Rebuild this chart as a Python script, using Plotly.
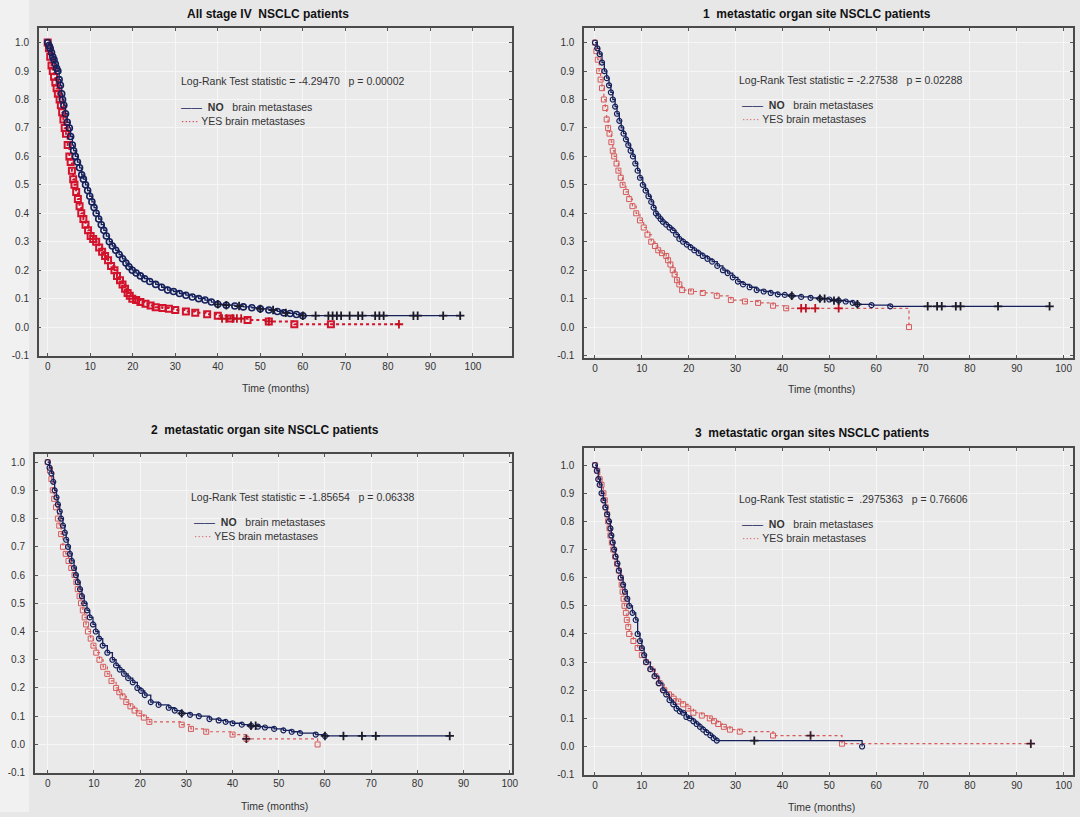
import plotly.graph_objects as go

# ---------------- data ----------------
titles = ["All stage IV  NSCLC patients",
          "1  metastatic organ site NSCLC patients",
          "2  metastatic organ site NSCLC patients",
          "3  metastatic organ sites NSCLC patients"]
stats = ["Log-Rank Test statistic = -4.29470   p = 0.00002",
         "Log-Rank Test statistic = -2.27538   p = 0.02288",
         "Log-Rank Test statistic = -1.85654   p = 0.06338",
         "Log-Rank Test statistic =  .2975363   p = 0.76606"]

# Each curve: (time in months, cumulative proportion surviving) at events
p1_no = [(0, 1.0), (0.3, 0.99), (0.6, 0.98), (0.9, 0.965), (1.2, 0.95), (1.5, 0.94), (1.8, 0.925),
         (2.1, 0.91), (2.4, 0.9), (2.7, 0.87), (3.0, 0.85), (3.3, 0.82), (3.5, 0.8), (3.8, 0.78),
         (4.2, 0.75), (4.6, 0.72), (5.1, 0.7), (5.4, 0.67), (5.8, 0.64), (6.1, 0.62), (6.5, 0.6),
         (7.0, 0.58), (7.5, 0.56), (8.0, 0.535), (8.4, 0.52), (8.9, 0.5), (9.4, 0.48), (9.9, 0.46),
         (10.4, 0.44), (10.9, 0.42), (11.4, 0.4), (12.0, 0.38), (12.6, 0.36), (13.2, 0.34),
         (13.8, 0.32), (14.5, 0.3), (15.2, 0.285), (16.0, 0.27), (16.8, 0.255), (17.6, 0.24),
         (18.4, 0.225), (19.1, 0.212), (19.9, 0.2), (20.8, 0.19), (21.8, 0.18), (22.8, 0.17),
         (24.0, 0.16), (25.4, 0.15), (26.8, 0.14), (28.2, 0.13), (29.6, 0.125), (31.0, 0.118),
         (32.5, 0.112), (34.0, 0.106), (35.5, 0.1), (37.0, 0.095), (38.5, 0.088), (40.0, 0.08),
         (42.0, 0.077), (44.0, 0.074), (46.0, 0.071), (48.0, 0.068), (50.0, 0.064), (52.0, 0.06),
         (54.0, 0.055), (55.5, 0.05), (57.0, 0.048), (58.5, 0.044), (60.0, 0.04)]
p1_no_end = 97
p1_no_cens = [(40, 0.08), (42, 0.077), (45, 0.074), (50, 0.064), (53, 0.06), (56, 0.05), (60, 0.04),
              (63, 0.04), (66, 0.04), (67, 0.04), (68, 0.04), (69, 0.04), (71, 0.04), (73, 0.04),
              (74, 0.04), (77, 0.04), (78, 0.04), (79, 0.04), (86, 0.04), (87, 0.04), (93, 0.04),
              (97, 0.04)]
p1_yes = [(0, 1.0), (0.3, 0.98), (0.6, 0.95), (0.9, 0.92), (1.2, 0.9), (1.5, 0.88), (1.8, 0.86),
          (2.1, 0.84), (2.4, 0.82), (2.8, 0.8), (3.1, 0.78), (3.4, 0.755), (3.7, 0.73), (4.0, 0.7),
          (4.3, 0.68), (4.7, 0.64), (5.1, 0.6), (5.4, 0.58), (5.7, 0.55), (6.0, 0.52), (6.3, 0.5),
          (6.7, 0.475), (7.1, 0.45), (7.5, 0.425), (7.9, 0.4), (8.4, 0.38), (8.9, 0.36), (9.5, 0.34),
          (10.1, 0.32), (10.7, 0.31), (11.4, 0.3), (12.1, 0.28), (12.8, 0.265), (13.5, 0.25),
          (14.2, 0.235), (14.9, 0.215), (15.7, 0.2), (16.3, 0.18), (17.0, 0.165), (17.6, 0.15),
          (18.2, 0.135), (18.8, 0.12), (19.3, 0.11), (19.9, 0.1), (20.8, 0.095), (21.8, 0.088),
          (23.0, 0.082), (24.2, 0.076), (25.4, 0.07), (27.0, 0.067), (28.5, 0.064), (30.0, 0.06),
          (32.5, 0.055), (34.7, 0.05), (37.5, 0.045), (40.0, 0.04), (43.0, 0.03), (47.0, 0.025),
          (52.0, 0.02), (58.0, 0.01), (66.6, 0.01)]
p1_yes_end = 82.6
p1_yes_cens = [(41, 0.03), (42, 0.03), (43.5, 0.03), (44.5, 0.03), (45.5, 0.03), (52, 0.02),
               (82.6, 0.01)]

p2_no = [(0, 1.0), (0.5, 0.98), (1.0, 0.96), (1.5, 0.93), (2.0, 0.9), (2.5, 0.875), (3.0, 0.85),
         (3.4, 0.825), (3.8, 0.8), (4.3, 0.775), (4.7, 0.75), (5.2, 0.725), (5.6, 0.7), (6.1, 0.68),
         (6.6, 0.66), (7.1, 0.64), (7.6, 0.62), (8.1, 0.6), (8.6, 0.575), (9.1, 0.55), (9.6, 0.525),
         (10.2, 0.5), (10.8, 0.48), (11.4, 0.46), (12.0, 0.44), (12.5, 0.42), (13.0, 0.4),
         (13.5, 0.39), (14.0, 0.38), (14.5, 0.37), (15.2, 0.36), (15.9, 0.35), (16.6, 0.34),
         (17.3, 0.325), (18.0, 0.31), (18.8, 0.3), (19.6, 0.29), (20.4, 0.28), (21.2, 0.27),
         (22.1, 0.26), (23.0, 0.25), (24.0, 0.24), (25.0, 0.23), (26.1, 0.215), (27.3, 0.2),
         (28.3, 0.19), (29.4, 0.175), (30.5, 0.16), (31.6, 0.15), (33.0, 0.14), (34.5, 0.13),
         (36.0, 0.125), (37.5, 0.12), (39.0, 0.115), (40.5, 0.113), (42.0, 0.11), (44.0, 0.106),
         (46.0, 0.103), (48.0, 0.1), (50.0, 0.097), (52.0, 0.093), (53.5, 0.09), (55.0, 0.085),
         (56.0, 0.08), (59.0, 0.077), (63.0, 0.073)]
p2_no_end = 97
p2_no_cens = [(42, 0.11), (48, 0.1), (49, 0.1), (51, 0.093), (52, 0.093), (56, 0.08), (71, 0.073),
              (73, 0.073), (74, 0.073), (77, 0.073), (78, 0.073), (86, 0.073), (97, 0.073)]
p2_yes = [(0, 1.0), (0.3, 0.97), (0.6, 0.94), (0.9, 0.9), (1.2, 0.87), (1.5, 0.84), (1.9, 0.8),
          (2.2, 0.77), (2.5, 0.73), (2.8, 0.7), (3.1, 0.68), (3.5, 0.65), (3.8, 0.62), (4.1, 0.6),
          (4.6, 0.575), (5.0, 0.55), (5.5, 0.525), (5.9, 0.5), (6.6, 0.475), (7.3, 0.45),
          (8.0, 0.425), (8.8, 0.4), (9.6, 0.375), (10.4, 0.35), (11.2, 0.325), (12.0, 0.3),
          (12.8, 0.285), (13.5, 0.27), (14.3, 0.26), (15.2, 0.25), (15.6, 0.235), (16.1, 0.22),
          (16.6, 0.2), (17.0, 0.185), (17.5, 0.165), (18.0, 0.15), (18.6, 0.13), (20.5, 0.125),
          (23.0, 0.12), (26.0, 0.11), (29.0, 0.095), (32.0, 0.09), (34.8, 0.085), (38.0, 0.075),
          (40.8, 0.066), (67.0, 0.0)]
p2_yes_end = 67
p2_yes_cens = [(44, 0.066), (45, 0.066), (47, 0.066), (52, 0.066)]

p3_no = [(0, 1.0), (0.4, 0.98), (0.8, 0.96), (1.2, 0.93), (1.5, 0.9), (1.9, 0.875), (2.2, 0.85),
         (2.6, 0.825), (2.9, 0.8), (3.3, 0.775), (3.7, 0.75), (4.0, 0.725), (4.4, 0.7), (4.8, 0.675),
         (5.2, 0.65), (5.7, 0.625), (6.1, 0.6), (6.5, 0.575), (7.0, 0.55), (7.4, 0.525), (7.9, 0.5),
         (8.5, 0.475), (9.1, 0.45), (9.8, 0.425), (10.4, 0.4), (11.1, 0.375), (11.9, 0.35),
         (12.9, 0.325), (14.0, 0.3), (14.8, 0.28), (15.6, 0.265), (16.5, 0.25), (17.4, 0.235),
         (18.4, 0.22), (19.4, 0.2), (20.2, 0.19), (21.0, 0.175), (22.3, 0.15), (24.0, 0.14),
         (26.2, 0.13), (27.5, 0.12), (29.0, 0.11), (30.8, 0.105), (32.7, 0.1), (35.0, 0.09),
         (37.0, 0.085), (38.5, 0.08), (40.0, 0.075), (42.0, 0.07), (44.0, 0.066), (45.5, 0.063),
         (47.0, 0.06), (49.0, 0.055), (51.0, 0.05), (52.8, 0.045), (54.6, 0.04), (58.0, 0.035),
         (60.0, 0.03)]
p3_no_end = 87
p3_no_cens = [(29, 0.11), (44, 0.066), (45, 0.066), (60, 0.03), (64, 0.03), (68, 0.03), (71, 0.03),
              (87, 0.03)]
p3_yes = [(0, 1.0), (0.5, 0.97), (0.8, 0.94), (1.1, 0.9), (1.4, 0.87), (1.8, 0.84), (2.2, 0.8),
          (2.5, 0.775), (2.9, 0.745), (3.3, 0.7), (3.9, 0.675), (4.5, 0.65), (5.1, 0.625),
          (5.8, 0.6), (6.2, 0.575), (6.5, 0.55), (6.9, 0.525), (7.2, 0.5), (7.6, 0.475), (8.0, 0.45),
          (8.3, 0.425), (8.7, 0.4), (9.3, 0.375), (9.9, 0.35), (10.5, 0.325), (11.2, 0.3),
          (12.0, 0.275), (12.9, 0.25), (13.8, 0.225), (14.8, 0.2), (15.5, 0.185), (16.2, 0.17),
          (17.0, 0.15), (17.9, 0.135), (18.8, 0.12), (19.8, 0.11), (20.8, 0.095), (22.0, 0.08),
          (29.0, 0.07), (31.0, 0.055), (34.3, 0.045), (40.0, 0.035), (43.0, 0.02), (58.4, 0.0)]
p3_yes_end = 58.4
p3_yes_cens = [(43, 0.02)]

p4_no = [(0, 1.0), (0.4, 0.98), (0.7, 0.95), (1.0, 0.93), (1.4, 0.9), (1.8, 0.875), (2.2, 0.85),
         (2.6, 0.825), (3.0, 0.8), (3.3, 0.775), (3.5, 0.75), (3.8, 0.725), (4.1, 0.7), (4.4, 0.675),
         (4.8, 0.65), (5.1, 0.625), (5.5, 0.6), (6.0, 0.575), (6.4, 0.55), (6.9, 0.525), (7.3, 0.5),
         (8.0, 0.475), (8.7, 0.45), (9.1, 0.4), (9.6, 0.375), (10.0, 0.35), (10.5, 0.325),
         (10.9, 0.3), (11.8, 0.275), (12.7, 0.25), (13.6, 0.225), (14.5, 0.2), (15.2, 0.185),
         (15.9, 0.165), (16.7, 0.15), (17.4, 0.135), (18.1, 0.125), (18.8, 0.12), (19.5, 0.105),
         (20.2, 0.1), (21.0, 0.09), (21.7, 0.08), (22.4, 0.07), (23.1, 0.06), (23.8, 0.05),
         (24.6, 0.04), (25.3, 0.03), (26.0, 0.021), (57.0, 0.0)]
p4_no_end = 57
p4_no_cens = [(34, 0.021)]
p4_yes = [(0, 1.0), (0.5, 0.98), (1.0, 0.95), (1.4, 0.93), (1.8, 0.9), (2.1, 0.875), (2.3, 0.85),
          (2.6, 0.825), (2.8, 0.8), (3.1, 0.775), (3.3, 0.75), (3.6, 0.725), (3.9, 0.7),
          (4.3, 0.675), (4.7, 0.65), (5.1, 0.625), (5.5, 0.6), (5.7, 0.575), (5.9, 0.55),
          (6.1, 0.525), (6.3, 0.5), (6.6, 0.475), (6.8, 0.45), (7.1, 0.425), (7.3, 0.4),
          (8.2, 0.375), (9.1, 0.35), (10.0, 0.325), (10.9, 0.3), (11.9, 0.275), (12.9, 0.25),
          (13.8, 0.225), (14.8, 0.2), (15.8, 0.185), (16.8, 0.17), (17.8, 0.16), (18.8, 0.15),
          (19.9, 0.135), (21.0, 0.12), (22.8, 0.11), (24.5, 0.1), (25.4, 0.09), (26.3, 0.08),
          (27.5, 0.07), (28.8, 0.06), (30.9, 0.053), (38.0, 0.039), (52.7, 0.01)]
p4_yes_end = 93
p4_yes_cens = [(46, 0.039), (93, 0.01)]

x_ticks = [0, 10, 20, 30, 40, 50, 60, 70, 80, 90, 100, 110]
y_ticks = [-0.1, 0.0, 0.1, 0.2, 0.3, 0.4, 0.5, 0.6, 0.7, 0.8, 0.9, 1.0]

panels = [
    (p1_no, p1_no_end, p1_no_cens, p1_yes, p1_yes_end, p1_yes_cens),
    (p2_no, p2_no_end, p2_no_cens, p2_yes, p2_yes_end, p2_yes_cens),
    (p3_no, p3_no_end, p3_no_cens, p3_yes, p3_yes_end, p3_yes_cens),
    (p4_no, p4_no_end, p4_no_cens, p4_yes, p4_yes_end, p4_yes_cens),
]

# ---------------- layout geometry (pixels) ----------------
W, H = 1080, 817
geo = [
    ((39, 515, 28, 358), (-2.1, 109.1), (-0.101, 1.052)),
    ((588, 1080, 28, 360), (-2.3, 102.0), (-0.108, 1.052)),
    ((35, 515, 457, 778), (-2.8, 100.4), (-0.102, 1.028)),
    ((588, 1080, 451, 780), (-2.3, 102.0), (-0.102, 1.060)),
]
title_pos = [(270, 14), (822, 14), (267, 433), (817, 436)]
xtitle_pos = [(277, 390), (827, 391), (276, 811), (827, 812)]
stat_pos = [(180, 82), (742, 80), (190, 500), (742, 502)]
leg_pos = [(180, 108), (745, 106), (193, 525), (745, 527)]

BLUE = "#16215c"
RED_STRONG = "#d3122c"
RED_SOFT = "#d65a5a"
FONT = "Liberation Sans"


def unzip(pairs):
    return [p[0] for p in pairs], [p[1] for p in pairs]


fig = go.Figure()
layout_axes = {}
annotations = []

for i, (pan, (fr, xr, yr)) in enumerate(zip(panels, geo)):
    no, no_end, no_cens, yes, yes_end, yes_cens = pan
    no_t, no_s = unzip(no)
    yes_t, yes_s = unzip(yes)
    no_ct, no_cs = unzip(no_cens)
    yes_ct, yes_cs = unzip(yes_cens)
    k = "" if i == 0 else str(i + 1)
    xa, ya = "x" + k, "y" + k
    red = RED_STRONG if i == 0 else RED_SOFT
    lw_red = 2.0 if i == 0 else 1.2
    msize = 6 if i == 0 else 5

    # YES (red, dotted)
    fig.add_trace(go.Scatter(x=yes_t + [yes_end], y=yes_s + [yes_s[-1]], mode="lines",
                             line=dict(color=red, width=lw_red, dash="dot", shape="hv"),
                             xaxis=xa, yaxis=ya, showlegend=False, hoverinfo="skip"))
    fig.add_trace(go.Scatter(x=yes_t, y=yes_s, mode="markers",
                             marker=dict(symbol="square-open", size=msize, color=red,
                                         line=dict(width=2.0 if i == 0 else 1, color=red)),
                             xaxis=xa, yaxis=ya, showlegend=False))
    fig.add_trace(go.Scatter(x=yes_ct, y=yes_cs, mode="markers",
                             marker=dict(symbol="cross-thin", size=6,
                                         line=dict(width=1.8, color="#c0101f" if i in (0, 1) else "#3a1a2a")),
                             xaxis=xa, yaxis=ya, showlegend=False))
    # NO (blue, solid)
    fig.add_trace(go.Scatter(x=no_t + [no_end], y=no_s + [no_s[-1]], mode="lines",
                             line=dict(color=BLUE, width=1.3, shape="hv"),
                             xaxis=xa, yaxis=ya, showlegend=False, hoverinfo="skip"))
    fig.add_trace(go.Scatter(x=no_t, y=no_s, mode="markers",
                             marker=dict(symbol="circle-open", size=msize, color=BLUE,
                                         line=dict(width=1.6 if i == 0 else 1.2, color=BLUE)),
                             xaxis=xa, yaxis=ya, showlegend=False))
    fig.add_trace(go.Scatter(x=no_ct, y=no_cs, mode="markers",
                             marker=dict(symbol="cross-thin", size=6, line=dict(width=1.8, color="#1a1a2a")),
                             xaxis=xa, yaxis=ya, showlegend=False))

    l, r, t, b = fr
    axis_common = dict(showline=True, linecolor="#4a4a4a", linewidth=1.5, mirror="ticks",
                       ticks="inside", ticklen=3, tickcolor="#555", showgrid=True,
                       gridcolor="#f6f6f6", gridwidth=1, zeroline=False,
                       tickfont=dict(family=FONT, size=10, color="#333"))
    layout_axes["xaxis" + k] = dict(axis_common, domain=[l / W, r / W], range=list(xr),
                                    anchor=ya, tickvals=x_ticks, ticktext=[str(v) for v in x_ticks])
    layout_axes["yaxis" + k] = dict(axis_common, domain=[1 - b / H, 1 - t / H], range=list(yr),
                                    anchor=xa, tickvals=y_ticks, ticktext=[f"{v:.1f}" for v in y_ticks],
                                    ticklabelstandoff=6)

    tx, ty = title_pos[i]
    annotations.append(dict(text="<b>" + titles[i] + "</b>", x=tx / W, y=1 - ty / H, xref="paper",
                            yref="paper", showarrow=False, xanchor="center", yanchor="middle",
                            font=dict(family=FONT, size=12, color="#111")))
    xx, xy = xtitle_pos[i]
    annotations.append(dict(text="Time (months)", x=xx / W, y=1 - xy / H, xref="paper", yref="paper",
                            showarrow=False, xanchor="center", yanchor="middle",
                            font=dict(family=FONT, size=10.5, color="#333")))
    sx, sy = stat_pos[i]
    annotations.append(dict(text=stats[i], x=sx / W, y=1 - sy / H, xref="paper", yref="paper",
                            showarrow=False, xanchor="left", yanchor="middle",
                            font=dict(family=FONT, size=10.5, color="#333")))
    lx, ly = leg_pos[i]
    annotations.append(dict(text=f"<span style='color:{BLUE}'>——</span>  <b>NO</b>   brain metastases",
                            x=lx / W, y=1 - ly / H, xref="paper", yref="paper", showarrow=False,
                            xanchor="left", yanchor="middle", font=dict(family=FONT, size=10.5, color="#333")))
    annotations.append(dict(text=f"<span style='color:{red}'>·····</span> YES brain metastases",
                            x=lx / W, y=1 - (ly + 14) / H, xref="paper", yref="paper", showarrow=False,
                            xanchor="left", yanchor="middle", font=dict(family=FONT, size=10.5, color="#333")))

fig.update_layout(
    width=W, height=H, margin=dict(l=0, r=0, t=0, b=0),
    paper_bgcolor="#e7e7e8", plot_bgcolor="#eaeaeb",
    annotations=annotations, showlegend=False,
    shapes=[dict(type="rect", xref="paper", yref="paper", x0=0, x1=0.027, y0=0, y1=1,
                 fillcolor="#f1f1f2", line=dict(width=0), layer="below")],
    **layout_axes,
)

fig.write_html("out.html")
